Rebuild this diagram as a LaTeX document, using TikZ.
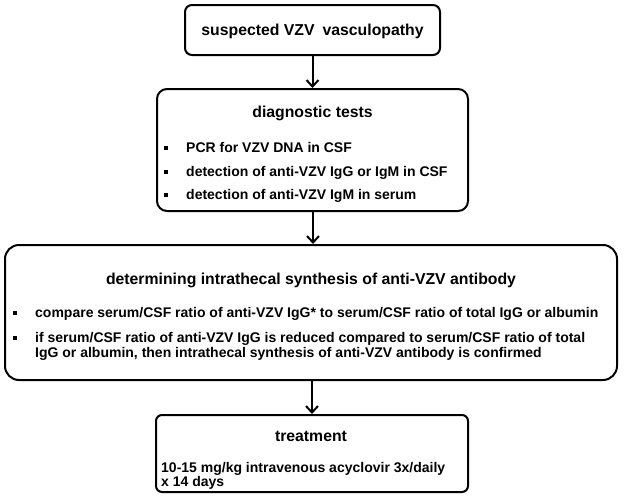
\documentclass[tikz,border=0pt]{standalone}
\usepackage{fontspec}
\setmainfont{Liberation Sans}
\usetikzlibrary{arrows.meta}
\tikzset{
  box/.style={draw, line width=2pt, rounded corners=#1, inner sep=0pt},
  box/.default=6pt,
  ttl/.style={font=\fontsize{15.8}{16}\selectfont\bfseries, inner sep=0pt, anchor=base},
  bodytxt/.style={font=\fontsize{14}{14}\selectfont\bfseries, inner sep=0pt, anchor=base west},
  bul/.style={fill, minimum size=4pt, inner sep=0pt},
  arr/.style={line width=2pt, -{Straight Barb[length=6.5pt,width=12pt]}}
}
\begin{document}
\begin{tikzpicture}[x=1pt,y=-1pt]
\useasboundingbox (0,0) rectangle (624,498);
% boxes
\node[box=7pt, minimum width=255pt, minimum height=50pt] (b1) at (312.5,30) {};
\node[box=10pt, minimum width=311pt, minimum height=122pt] (b2) at (312.5,150) {};
\node[box=14pt, minimum width=612pt, minimum height=135pt] (b3) at (311,312.5) {};
\node[box=6pt, minimum width=312pt, minimum height=77pt] (b4) at (312,453.5) {};
% box 1
\node[ttl] (t1) at (312.5,35) {suspected VZV\hspace{0.5em}vasculopathy};
% box 2
\node[ttl] (t2) at (312.5,117) {diagnostic tests};
\node[bodytxt] (r21) at (186,152) {PCR for VZV DNA in CSF};
\node[bodytxt] (r22) at (186,176) {detection of anti-VZV IgG or IgM in CSF};
\node[bodytxt] (r23) at (186,199) {detection of anti-VZV IgM in serum};
\node[bul] (u21) at (166,148) {};
\node[bul] (u22) at (166,172) {};
\node[bul] (u23) at (166,195) {};
% box 3
\node[ttl] (t3) at (311,284) {determining intrathecal synthesis of anti-VZV antibody};
\node[bodytxt] (r31) at (35,317) {compare serum/CSF ratio of anti-VZV IgG* to serum/CSF ratio of total IgG or albumin};
\node[bodytxt] (r32) at (35,342) {if serum/CSF ratio of anti-VZV IgG is reduced compared to serum/CSF ratio of total};
\node[bodytxt] (r33) at (35,357) {IgG or albumin, then intrathecal synthesis of anti-VZV antibody is confirmed};
\node[bul] (u31) at (15,313) {};
\node[bul] (u32) at (15,338) {};
% box 4
\node[ttl] (t4) at (311,441) {treatment};
\node[bodytxt] (r41) at (161,472) {10-15 mg/kg intravenous acyclovir 3x/daily};
\node[bodytxt] (r42) at (161,486) {x 14 days};
% arrows
\draw[arr] (b1.south) -- (b1.south |- b2.north);
\draw[arr] ([xshift=0.5pt]b2.south) -- ([xshift=0.5pt]b2.south |- b3.north);
\draw[arr] ([xshift=1pt]b3.south) -- ([xshift=1pt]b3.south |- b4.north);
\end{tikzpicture}
\end{document}
